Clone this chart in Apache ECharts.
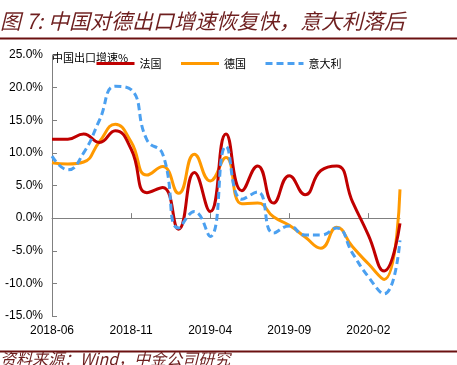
<!DOCTYPE html>
<html>
<head>
<meta charset="utf-8">
<script src="https://cdn.jsdelivr.net/npm/echarts@6/dist/echarts.min.js"></script>
<style>
html,body{margin:0;padding:0;background:#fff;}
#chart{width:457px;height:365px;}
</style>
</head>
<body>
<div id="chart"></div>
<script>
const categories = ['2018-06','2018-07','2018-08','2018-09','2018-10','2018-11','2018-12','2019-01','2019-02','2019-03','2019-04','2019-05','2019-06','2019-07','2019-08','2019-09','2019-10','2019-11','2019-12','2020-01','2020-02','2020-03','2020-04'];
const france  = [12.1, 12.1, 12.9, 11.6, 13.4, 10.6, 3.9, 4.7, -1.7, 7.0, 1.0, 12.9, 4.2, 8.0, 2.3, 6.5, 3.6, 7.3, 8.0, 2.5, -2.6, -8.1, -0.8];
const germany = [8.5, 8.3, 8.6, 11.7, 14.4, 11.7, 6.6, 7.9, 3.8, 9.8, 5.7, 9.3, 2.2, 2.3, 0.2, -1.1, -2.9, -4.6, -1.4, -4.4, -7.0, -9.4, 4.4];
const italy   = [9.5, 7.4, 10.0, 15.0, 20.2, 19.7, 12.0, 9.8, -1.5, 1.0, -2.8, 11.0, 2.9, 4.0, -2.3, -1.2, -2.6, -2.6, -1.5, -5.4, -9.0, -11.6, -3.4];
const seriesNames = ['法国', '德国', '意大利'];
const yTicks = { min: -15, max: 25, interval: 5 };
const titleText = '图 7: 中国对德出口增速恢复快，意大利落后';
const sourceText = '资料来源：Wind，中金公司研究';
const yAxisName = '中国出口增速%';

const chart = echarts.init(document.getElementById('chart'), null, { renderer: 'canvas' });
const cjk = '"Noto Sans CJK SC", sans-serif';
const latin = '"Liberation Sans", Arial, sans-serif';
const maroon = '#6B1010';

chart.setOption({
  animation: false,
  backgroundColor: '#fff',
  title: [
    { text: titleText, left: 0, top: 11, padding: 0,
      textStyle: { fontFamily: cjk, fontSize: 21, fontStyle: 'italic', fontWeight: 'normal', color: '#6E1F1F' } },
    { text: sourceText, left: 0, top: 351, padding: 0,
      textStyle: { fontFamily: cjk, fontSize: 16, lineHeight: 16, fontStyle: 'italic', fontWeight: 'normal', color: '#6E1F1F' } }
  ],
  graphic: [
    { type: 'rect', shape: { x: 0, y: 37.5, width: 457, height: 2 }, style: { fill: maroon }, silent: true },
    { type: 'rect', shape: { x: 0, y: 350.5, width: 457, height: 2 }, style: { fill: maroon }, silent: true, z: 10 }
  ],
  legend: {
    data: seriesNames, left: 95, top: 58, padding: 0, itemWidth: 38, itemHeight: 10, itemGap: 18,
    itemStyle: { opacity: 0, borderWidth: 0 },
    lineStyle: { width: 3 },
    textStyle: { fontFamily: cjk, fontSize: 11, color: '#000' }
  },
  grid: { left: 52, right: 57, top: 55, bottom: 49, containLabel: false },
  xAxis: [
    { type: 'category', data: categories, boundaryGap: false, position: 'top',
      axisLine: { show: true, onZero: true, lineStyle: { color: '#808080', width: 1 } },
      axisTick: { show: true, inside: false, interval: 4, length: 5, lineStyle: { color: '#808080' } },
      axisLabel: { show: false }, splitLine: { show: false } },
    { type: 'category', data: categories, boundaryGap: false, position: 'bottom',
      axisLine: { show: false, onZero: false }, axisTick: { show: false },
      axisLabel: { show: true, interval: 4, margin: 9, color: '#000', fontFamily: latin, fontSize: 12 },
      splitLine: { show: false } }
  ],
  yAxis: {
    type: 'value', min: yTicks.min, max: yTicks.max, interval: yTicks.interval,
    name: yAxisName, nameLocation: 'end', nameGap: -3,
    nameTextStyle: { fontFamily: cjk, fontSize: 11, color: '#000', align: 'left', verticalAlign: 'middle' },
    axisLine: { show: true, lineStyle: { color: '#808080', width: 1 } },
    axisTick: { show: true, inside: true, length: 5, lineStyle: { color: '#808080' } },
    axisLabel: { formatter: v => v.toFixed(1) + '%', margin: 9, color: '#000', fontFamily: latin, fontSize: 12 },
    splitLine: { show: false }
  },
  series: [
    { name: seriesNames[0], type: 'line', data: france, smooth: 0.5, symbol: 'none', z: 3,
      lineStyle: { color: '#C00000', width: 3 }, itemStyle: { color: '#C00000' } },
    { name: seriesNames[1], type: 'line', data: germany, smooth: 0.5, symbol: 'none', z: 2,
      lineStyle: { color: '#FF9900', width: 3 }, itemStyle: { color: '#FF9900' } },
    { name: seriesNames[2], type: 'line', data: italy, smooth: 0.5, symbol: 'none', z: 4,
      lineStyle: { color: '#4BA0F0', width: 3, type: [7, 4] }, itemStyle: { color: '#4BA0F0' } }
  ]
});
</script>
</body>
</html>
